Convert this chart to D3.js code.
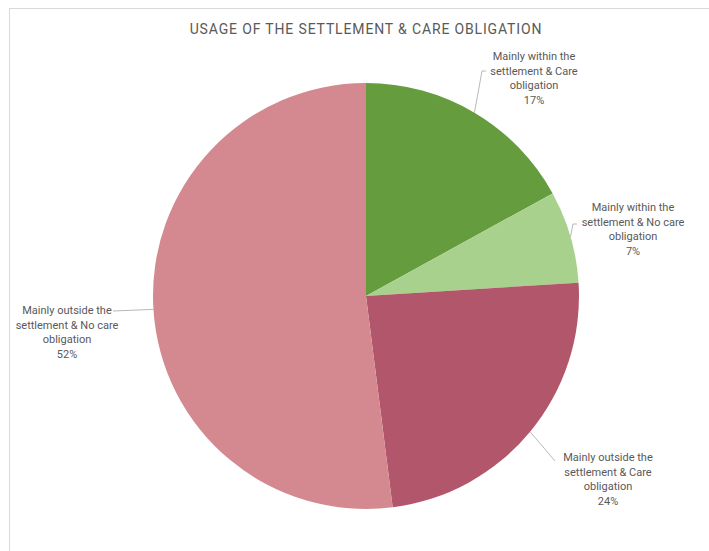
<!DOCTYPE html>
<html>
<head>
<meta charset="utf-8">
<script src="https://cdn.jsdelivr.net/npm/d3@7/dist/d3.min.js"></script>
<style>
  html, body { margin: 0; padding: 0; background: #ffffff; }
  svg { display: block; }
  text { font-family: Roboto, "DejaVu Sans", sans-serif; fill: #595959; }
</style>
</head>
<body>
<svg id="chart" width="709" height="551"></svg>
<script>
// Survey shares, clockwise from 12 o'clock
const categories = [
  ["Mainly within the", "settlement & Care", "obligation"],
  ["Mainly within the", "settlement & No care", "obligation"],
  ["Mainly outside the", "settlement & Care", "obligation"],
  ["Mainly outside the", "settlement & No care", "obligation"]
];
const values = [17, 7, 24, 52];
const colors = ["#659c3e", "#a9d18e", "#b2566b", "#d3898f"];
const title = "USAGE OF THE SETTLEMENT & CARE OBLIGATION";

const W = 709, H = 551;
const cx = 366, cy = 296, R = 213;

// where each data label block sits (centre x, first baseline y) and how its leader bends
const labelLayout = [
  { x: 534, y: 60, leader: "elbowUp", anchorX: 486, anchorY: 71 },
  { x: 633, y: 211, leader: "elbowUp", anchorX: 577, anchorY: 224 },
  { x: 608, y: 461, leader: "straight", anchorX: 555, anchorY: 461 },
  { x: 67, y: 314, leader: "straight", anchorX: 113, anchorY: 311 }
];

const svg = d3.select("#chart");

// chart area frame
svg.append("rect")
  .attr("x", 9.5).attr("y", 8.5)
  .attr("width", W).attr("height", H)
  .attr("fill", "none")
  .attr("stroke", "#d9d9d9")
  .attr("stroke-width", 1);

svg.append("text")
  .attr("x", 366).attr("y", 34)
  .attr("text-anchor", "middle")
  .attr("font-size", 14)
  .attr("letter-spacing", 0.85)
  .text(title);

const pie = d3.pie().sort(null).value(d => d)(values);
const arc = d3.arc().innerRadius(0).outerRadius(R);
const edge = d3.arc().innerRadius(R).outerRadius(R);

const g = svg.append("g").attr("transform", `translate(${cx},${cy})`);

g.selectAll("path.slice")
  .data(pie)
  .join("path")
  .attr("class", "slice")
  .attr("d", arc)
  .attr("fill", (d, i) => colors[i]);

// leader lines from the slice rim to the label block
pie.forEach((d, i) => {
  const [ex, ey] = edge.centroid(d);
  const px = ex + cx, py = ey + cy;
  const L = labelLayout[i];
  let pts;
  if (L.leader === "elbowUp") {
    const bx = L.anchorX - 4;
    pts = [[px, py], [bx, L.anchorY], [L.anchorX, L.anchorY]];
  } else {
    pts = [[px, py], [L.anchorX, L.anchorY]];
  }
  svg.append("path")
    .attr("d", d3.line()(pts))
    .attr("fill", "none")
    .attr("stroke", "#a6a6a6")
    .attr("stroke-width", 0.8);
});

// data labels
pie.forEach((d, i) => {
  const L = labelLayout[i];
  const t = svg.append("text")
    .attr("text-anchor", "middle")
    .attr("font-size", 11);
  const lines = categories[i].concat([d.data + "%"]);
  lines.forEach((ln, k) => {
    t.append("tspan")
      .attr("x", L.x)
      .attr("y", L.y + k * 14.5)
      .text(ln);
  });
});
</script>
</body>
</html>
